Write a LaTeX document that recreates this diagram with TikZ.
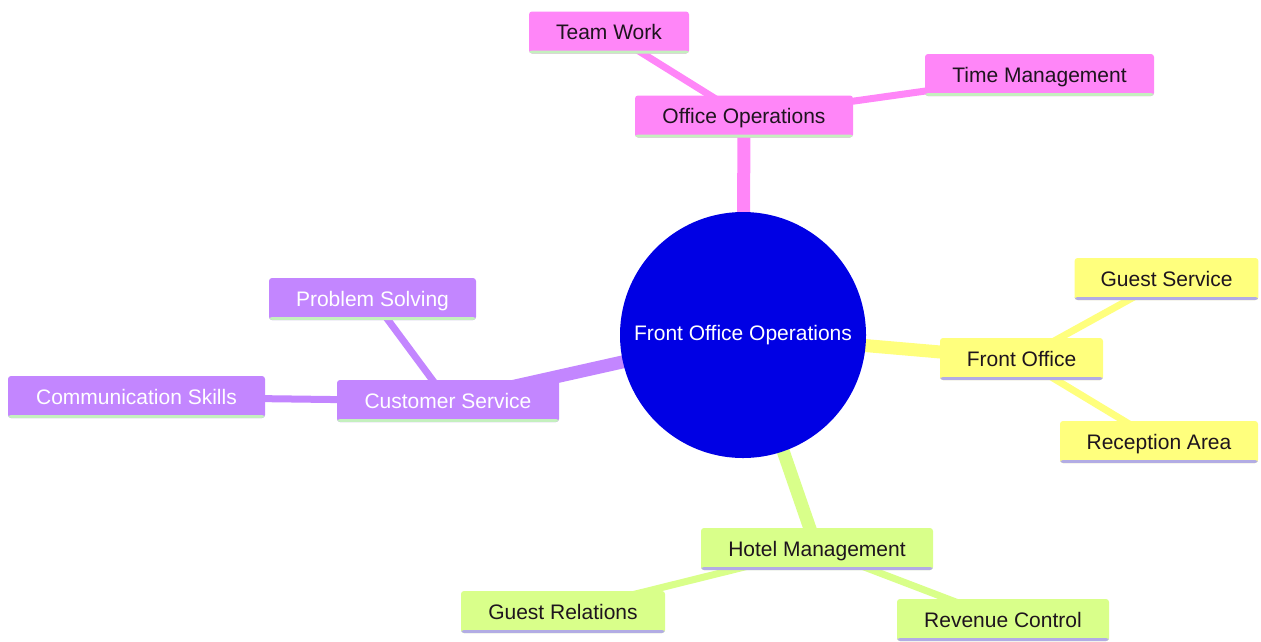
\documentclass[tikz,border=0pt]{standalone}
\usepackage{fontspec}
\setmainfont{Liberation Sans}
\usetikzlibrary{backgrounds}
\definecolor{rootc}{RGB}{0,0,228}
\definecolor{yel}{RGB}{255,255,125}
\definecolor{grn}{RGB}{217,255,138}
\definecolor{pur}{RGB}{195,134,255}
\definecolor{pnk}{RGB}{255,134,248}
\definecolor{lav}{RGB}{178,172,228}
\definecolor{lgr}{RGB}{196,240,190}
\definecolor{dtext}{RGB}{30,20,30}
\tikzset{
  box/.style={rounded corners=3pt, inner xsep=26pt, minimum height=42pt, text height=18pt, text depth=4pt,
    font=\fontsize{21}{25}\selectfont, anchor=center},
  pinkbox/.style={box, fill=pnk, text=dtext, path picture={\fill[lgr] (path picture bounding box.south west) rectangle ([yshift=3pt]path picture bounding box.south east);}},
  yelbox/.style={box, fill=yel, text=dtext, path picture={\fill[lav] (path picture bounding box.south west) rectangle ([yshift=3pt]path picture bounding box.south east);}},
  grnbox/.style={box, fill=grn, text=dtext, path picture={\fill[lav] (path picture bounding box.south west) rectangle ([yshift=3pt]path picture bounding box.south east);}},
  purbox/.style={box, fill=pur, text=white, path picture={\fill[lgr] (path picture bounding box.south west) rectangle ([yshift=3pt]path picture bounding box.south east);}},
  mainedge/.style={line width=13pt},
  subedge/.style={line width=7pt},
}
\begin{document}
\begin{tikzpicture}[x=1pt,y=-1pt]
\useasboundingbox (0,0) rectangle (1261,641);
\node[circle, fill=rootc, minimum size=246pt, inner sep=0pt, text=white, font=\fontsize{21}{25}\selectfont] (root) at (743,335) {Front Office Operations};

\node[pinkbox, minimum width=218pt] (oo) at (744,116.5) {Office Operations};
\node[pinkbox, minimum width=160pt] (tw) at (609,32.5) {Team Work};
\node[pinkbox, minimum width=229pt] (tm) at (1039.5,75) {Time Management};

\node[yelbox, minimum width=163pt] (fo) at (1021.5,359) {Front Office};
\node[yelbox, minimum width=183pt] (gs) at (1166.5,279) {Guest Service};
\node[yelbox, minimum width=198pt] (ra) at (1159,442) {Reception Area};

\node[grnbox, minimum width=232pt] (hm) at (817,549) {Hotel Management};
\node[grnbox, minimum width=204pt] (gr) at (563,612) {Guest Relations};
\node[grnbox, minimum width=212pt] (rc) at (1003,620) {Revenue Control};

\node[purbox, minimum width=222pt] (cs) at (448,401) {Customer Service};
\node[purbox, minimum width=207pt] (ps) at (372.5,299) {Problem Solving};
\node[purbox, minimum width=257pt] (ck) at (136.5,397) {Communication Skills};

\begin{scope}[on background layer]
\draw[mainedge, pnk] (root.center) -- (oo.center);
\draw[mainedge, yel] (root.center) -- (fo.center);
\draw[mainedge, grn] (root.center) -- (hm.center);
\draw[mainedge, pur] (root.center) -- (cs.center);
\draw[subedge, pnk] (oo.center) -- (tw.center);
\draw[subedge, pnk] (oo.center) -- (tm.center);
\draw[subedge, yel] (fo.center) -- (gs.center);
\draw[subedge, yel] (fo.center) -- (ra.center);
\draw[subedge, grn] (hm.center) -- (gr.center);
\draw[subedge, grn] (hm.center) -- (rc.center);
\draw[subedge, pur] (cs.center) -- (ps.center);
\draw[subedge, pur] (cs.center) -- (ck.center);
\end{scope}
\end{tikzpicture}
\end{document}
